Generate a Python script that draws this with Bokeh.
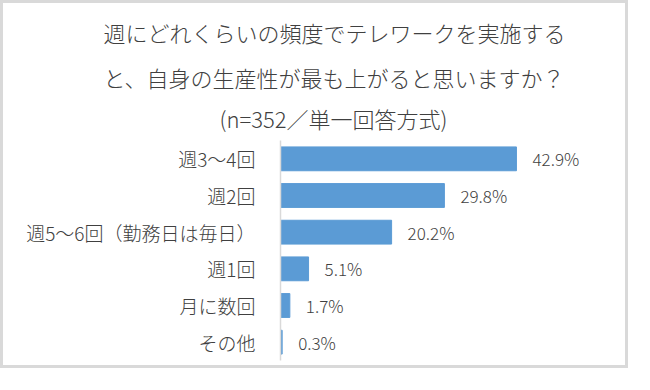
from bokeh.plotting import figure
from bokeh.models import ColumnDataSource, FactorRange, Range1d, Title
from bokeh.core.properties import value
from bokeh.embed import file_html
from bokeh.resources import INLINE

categories = ["週3〜4回", "週2回", "週5〜6回（勤務日は毎日）", "週1回", "月に数回", "その他"]
values = [42.9, 29.8, 20.2, 5.1, 1.7, 0.3]
value_labels = ["42.9%", "29.8%", "20.2%", "5.1%", "1.7%", "0.3%"]
title_lines = [
    "週にどれくらいの頻度でテレワークを実施する",
    "と、自身の生産性が最も上がると思いますか？",
    "(n=352／単一回答方式)",
]
title_offsets = [-177, -177, -61]
title_standoffs = [21, 0, 14]

FONT = "Noto Sans CJK JP Light, Noto Sans CJK JP"
TXT = "#404040"

source = ColumnDataSource(dict(cat=categories, val=values, lab=value_labels))

p = figure(
    width=628, height=368,
    y_range=FactorRange(factors=list(reversed(categories))),
    x_range=Range1d(0, 60),
    output_backend="svg", toolbar_location=None,
    min_border_left=277, min_border_top=130, min_border_bottom=11, min_border_right=21,
)
p.title.text = ""
p.styles = {"border": "3px solid #d9d9d9"}
p.outline_line_color = None
p.background_fill_color = "white"
p.border_fill_color = "white"
p.xgrid.visible = False
p.ygrid.visible = False
p.xaxis.visible = False

p.yaxis.axis_line_color = "#d9d9d9"
p.yaxis.axis_line_width = 1.5
p.yaxis.major_tick_line_color = None
p.yaxis.minor_tick_line_color = None
p.yaxis.major_tick_in = 0
p.yaxis.major_tick_out = 0
p.yaxis.minor_tick_in = 0
p.yaxis.minor_tick_out = 0
p.yaxis.major_label_standoff = 25
p.yaxis.major_label_text_font = FONT
p.yaxis.major_label_text_font_size = "19px"
p.yaxis.major_label_text_color = TXT

p.hbar(y="cat", right="val", left=0, height=0.65, source=source,
       fill_color="#5b9bd5", line_color="#5b9bd5")

p.text(x="val", y="cat", text="lab", source=source, x_offset=16,
       text_baseline="middle", text_align="left",
       text_font=value(FONT), text_font_size="17px", text_color=TXT)

for line, off, so in reversed(list(zip(title_lines, title_offsets, title_standoffs))):
    p.add_layout(Title(text=line, align="left", offset=off, text_font=FONT,
                       text_font_size="22px", text_font_style="normal",
                       text_color=TXT, standoff=so), "above")

open("out.html", "w").write(file_html(p, INLINE))
